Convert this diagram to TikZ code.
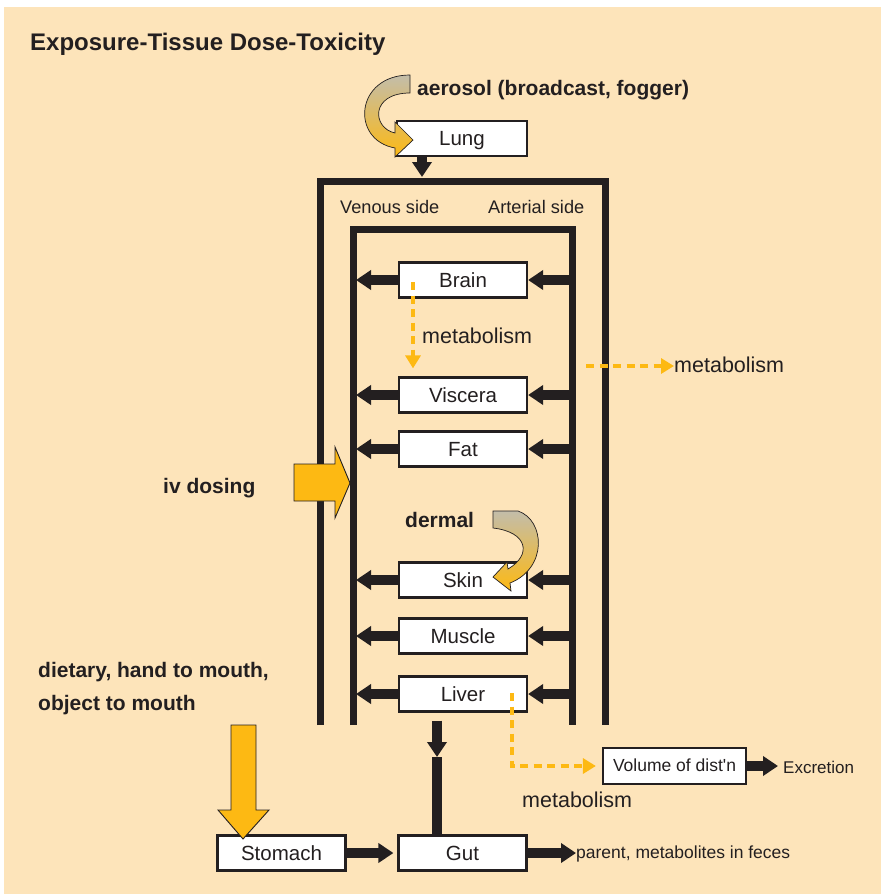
\documentclass[tikz,border=0pt]{standalone}
\usepackage{fontspec}
\setmainfont{Liberation Sans}
\usetikzlibrary{arrows.meta}
\definecolor{ink}{HTML}{231F20}
\definecolor{paper}{HTML}{FDE4BA}
\definecolor{dose}{HTML}{FDB913}
\definecolor{fog}{HTML}{C3BDAA}
\tikzset{
  organ/.style={draw=ink, line width=2.2pt, fill=white, text=ink, minimum width=128pt, minimum height=35pt, inner sep=0pt, text height=15pt, text depth=1pt, font=\fontsize{20.5}{24}\selectfont},
  flow/.style={draw=ink, line width=9.5pt, -{Triangle[length=15pt,width=19pt]}},
  metab/.style={draw=dose, line width=4.5pt, dash pattern=on 8pt off 5.5pt, -{Triangle[length=13pt,width=15pt]}},
  route/.style={text=ink, inner sep=0pt, anchor=base west, font=\bfseries\fontsize{21}{25}\selectfont},
  note/.style={text=ink, inner sep=0pt, anchor=base west, font=\fontsize{21.5}{25}\selectfont},
  tag/.style={text=ink, inner sep=0pt, anchor=base west, font=\fontsize{17.5}{21}\selectfont},
  block/.style={fill=dose, draw=ink, line width=0.9pt, line join=miter},
  curl/.style={draw=ink, line width=0.7pt, top color=fog, bottom color=dose},
  wall/.style={draw=ink, line width=7pt, line join=miter}
}
\begin{document}
\begin{tikzpicture}[x=1pt,y=-1pt]
\useasboundingbox (0,0) rectangle (881,894);
\fill[white] (0,0) rectangle (881,894);
\fill[paper] (4,7) rectangle (881,894);
\node[route, font=\bfseries\fontsize{24}{28}\selectfont] (title) at (30,50) {Exposure-Tissue Dose-Toxicity};

% blood circulation
\draw[wall] (320,725) -- (320,181) -- (605,181) -- (605,725);
\draw[wall] (353,725) -- (353,229) -- (572,229) -- (572,725);
\coordinate (venIn) at (356,229);
\coordinate (artIn) at (572,229);
\node[tag, font=\fontsize{18.2}{21}\selectfont] (venous) at (340,213) {Venous side};
\node[tag, font=\fontsize{18.2}{21}\selectfont] (arterial) at (488,213) {Arterial side};

% compartments
\node[organ, minimum width=130pt] (lung) at (462,138.5) {Lung};
\node[organ] (brain) at (463,280) {Brain};
\node[organ] (viscera) at (463,395) {Viscera};
\node[organ] (fat) at (463,449) {Fat};
\node[organ] (skin) at (463,580) {Skin};
\node[organ] (muscle) at (463,636) {Muscle};
\node[organ] (liver) at (463,694) {Liver};
\node[organ, minimum width=143pt, minimum height=36pt, text height=12.5pt, font=\fontsize{17.5}{21}\selectfont] (vod) at (674.5,766) {Volume of dist\textquotesingle n};
\node[organ] (stomach) at (281.5,853) {Stomach};
\node[organ] (gut) at (462.5,853) {Gut};

\draw[flow] (brain.west) -- (brain.west -| venIn);
\draw[flow] (brain.east -| artIn) -- (brain.east);
\draw[flow] (viscera.west) -- (viscera.west -| venIn);
\draw[flow] (viscera.east -| artIn) -- (viscera.east);
\draw[flow] (fat.west) -- (fat.west -| venIn);
\draw[flow] (fat.east -| artIn) -- (fat.east);
\draw[flow] (skin.west) -- (skin.west -| venIn);
\draw[flow] (skin.east -| artIn) -- (skin.east);
\draw[flow] (muscle.west) -- (muscle.west -| venIn);
\draw[flow] (muscle.east -| artIn) -- (muscle.east);
\draw[flow] (liver.west) -- (liver.west -| venIn);
\draw[flow] (liver.east -| artIn) -- (liver.east);

\coordinate (lungfoot) at (422,177);
\draw[flow] (lung.south -| lungfoot) -- (lungfoot);
\coordinate (livdrop) at (437,757);
\draw[flow, shorten <=8pt] (liver.south -| livdrop) -- (livdrop);
\draw[ink, line width=9.5pt] (livdrop) -- (gut.north -| livdrop);
\draw[flow, shorten >=4pt] (stomach.east) -- (gut.west);
\node[tag] (feces) at (576,858) {parent, metabolites in feces};
\draw[flow] (gut.east) -- (gut.east -| feces.west);
\node[tag, font=\fontsize{17}{20}\selectfont] (excretion) at (783,773) {Excretion};
\draw[flow, shorten >=5pt] (vod.east) -- (vod.east -| excretion.west);

% metabolism
\coordinate (brainmet) at (413,282);
\draw[metab, shorten >=8pt] (brainmet) -- (brainmet |- viscera.north);
\node[note] (metBrain) at (422,343) {metabolism};
\coordinate (artmet) at (586,366);
\node[note] (metArt) at (674,372) {metabolism};
\draw[metab] (artmet) -- (artmet -| metArt.west);
\coordinate (livmet) at (512,693);
\draw[metab, shorten >=6pt] (livmet) |- (vod.west);
\node[note] (metLiv) at (522,807) {metabolism};

% exposure routes
\node[route] (aerosol) at (417,95) {aerosol (broadcast, fogger)};
\draw[curl] (410,75) .. controls (355,75) and (350,140) .. (395,148) -- (395,157) -- (413,140) -- (395,122) -- (395,133) .. controls (372,128) and (370,93) .. (410,93) -- cycle;
\node[route] (ivdose) at (163,493) {iv dosing};
\draw[block] (294,464) -- (335,464) -- (335,447) -- (350,483) -- (335,518) -- (335,501) -- (294,501) -- cycle;
\node[route] (dermal) at (405,527) {dermal};
\draw[curl] (493,511) -- (518,511) .. controls (545,520) and (548,568) .. (510,583) -- (511,591) -- (493,577) -- (507,562) -- (508,569) .. controls (532,555) and (528,532) .. (493,528) -- cycle;
\node[route, align=left, font=\bfseries\fontsize{21}{33}\selectfont] (dietary) at (38,710) {dietary, hand to mouth,\\object to mouth};
\draw[block] (231,725) -- (256,725) -- (256,810) -- (269,810) -- (243,839) -- (218,810) -- (231,810) -- cycle;
\end{tikzpicture}
\end{document}
